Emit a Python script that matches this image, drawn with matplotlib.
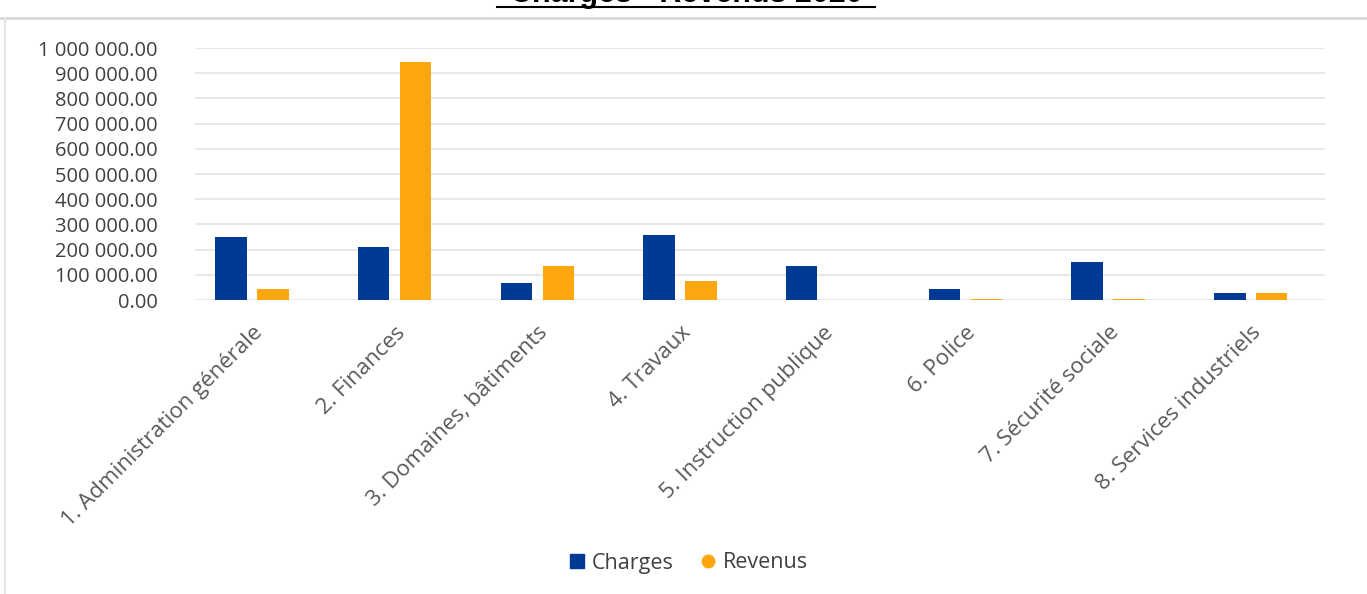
import matplotlib
matplotlib.use("Agg")
from matplotlib import pyplot as plt
from matplotlib.lines import Line2D
import numpy as np

categories = ["1. Administration générale", "2. Finances", "3. Domaines, bâtiments",
              "4. Travaux", "5. Instruction publique", "6. Police",
              "7. Sécurité sociale", "8. Services industriels"]
charges = [250000, 210000, 67000, 258000, 135000, 44000, 150000, 28000]
revenus = [44000, 944000, 135000, 75000, 0, 3000, 3000, 28000]
yticks = list(range(0, 1000001, 100000))

plt.rcParams['font.family'] = ['Open Sans', 'DejaVu Sans']
blue = '#003a94'
orange = '#ffa60f'
txt = '#404040'

fig = plt.figure(figsize=(13.67, 5.94), dpi=100)
ax = fig.add_axes([195/1367, 1-300/594, (1325-195)/1367, (300-48)/594])

x = np.arange(len(categories))
w = 0.22
ax.bar(x - 0.147, charges, w, color=blue)
ax.bar(x + 0.147, revenus, w, color=orange)

ax.set_xlim(-0.4, 7.52)
ax.set_ylim(0, 1000000)
ax.set_yticks(yticks)
ax.set_yticklabels([f"{v:,.2f}".replace(",", " ") for v in yticks], fontsize=14.5, color=txt)
ax.set_xticks(x)
ax.set_xticklabels(categories, rotation=45, ha='right', rotation_mode='anchor',
                   fontsize=16, color='#595959')
ax.tick_params(length=0, axis='both')
ax.tick_params(axis='x', pad=16)
ax.tick_params(axis='y', pad=27)
ax.grid(axis='y', color='#e4e4e4', linewidth=1.2)
ax.set_axisbelow(True)
for s in ax.spines.values():
    s.set_visible(False)

handles = [Line2D([], [], marker='s', linestyle='none', color=blue, markersize=10),
           Line2D([], [], marker='o', linestyle='none', color=orange, markersize=9)]
fig.legend(handles, ["Charges", "Revenus"], loc='center', bbox_to_anchor=(688/1367, 1-563/594),
           ncol=2, frameon=False, fontsize=15.5, handlelength=0.8, handletextpad=0.3,
           columnspacing=1.2, labelcolor=txt)

# title, mostly cut off at the top edge like the reference
fig.text(686/1367, 1-2/594, "Charges - Revenus 2020", ha='center', va='baseline',
         fontsize=22, fontweight='bold', family='Liberation Sans', color='black')
fig.add_artist(Line2D([497/1367, 875/1367], [1-7/594, 1-7/594], color='black', linewidth=1.5))

# faint frame of the chart area
fig.add_artist(Line2D([0, 1], [1-18/594, 1-18/594], color='#d8d8d8', linewidth=2))
fig.add_artist(Line2D([5/1367, 5/1367], [0, 1-18/594], color='#e6e6e6', linewidth=1.5))

fig.savefig("out.png", dpi=100)
